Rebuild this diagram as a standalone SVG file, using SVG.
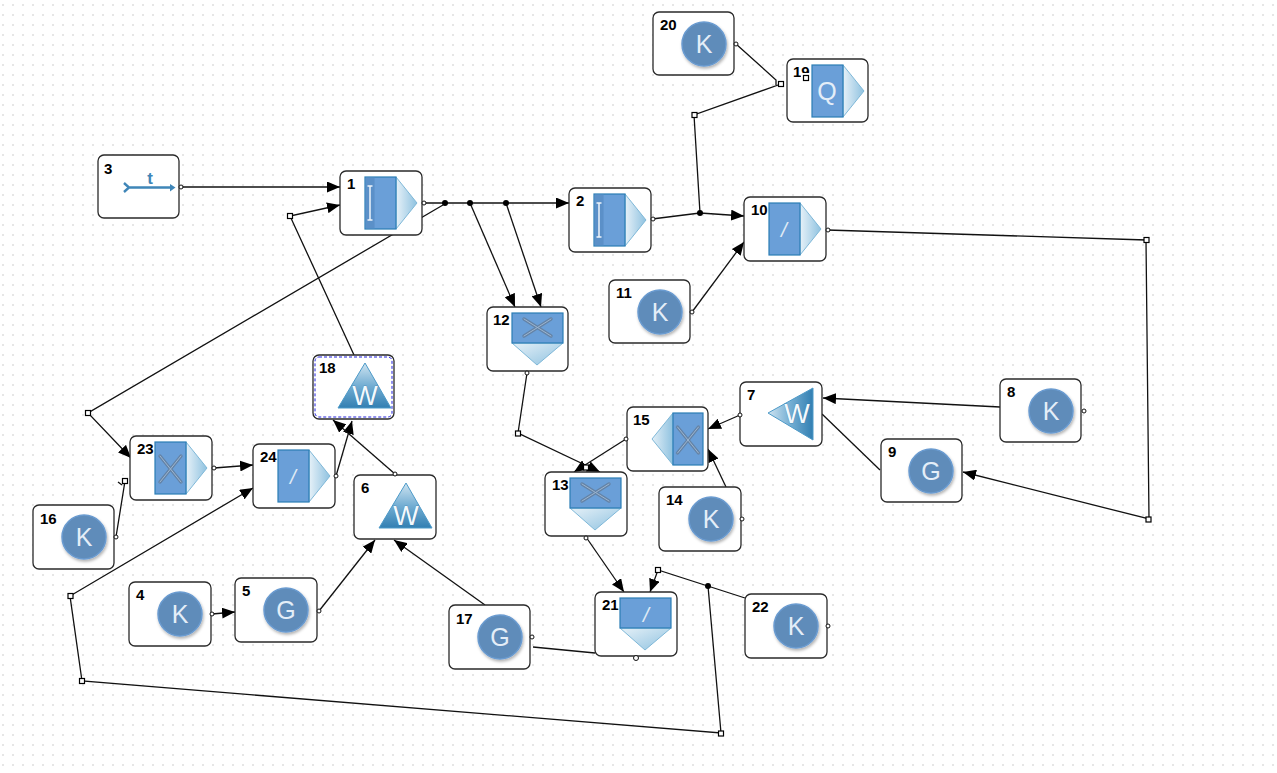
<svg xmlns="http://www.w3.org/2000/svg" width="1277" height="773" viewBox="0 0 1277 773">
<style>
.box{fill:#fff;stroke:#2a2a2a;stroke-width:1.3}
.num{font:bold 15px "Liberation Sans",Arial,sans-serif;fill:#000}
.g{font:25px "Liberation Sans",Arial,sans-serif;fill:#e4eef8;text-anchor:middle}
.w{font:27px "Liberation Sans",Arial,sans-serif;fill:#f4f9fd;text-anchor:middle;stroke:#2f78a8;stroke-width:.5;paint-order:stroke}
.sl{font:italic 21px "Liberation Sans",Arial,sans-serif;fill:#dfeaf5;text-anchor:middle}
.bl{fill:#6a9fd8;stroke:#2a7db5;stroke-width:1.2}
.col{fill:#5b90c8}
.c{fill:none;stroke:#111;stroke-width:1.3}
.a{marker-end:url(#ah)}
.sq{fill:#fff;stroke:#000;stroke-width:1.2}
.dot{fill:#000}
.port{fill:#fff;stroke:#111;stroke-width:1}
.x{stroke:#6483a6;stroke-width:3.4;stroke-linecap:round;fill:none}
.x2{stroke:#9db6d0;stroke-width:1;stroke-linecap:round;fill:none}
.disc{fill:#5f8cba;stroke:#6a9bd0;stroke-width:1.5;filter:url(#ds)}
</style>
<defs>
<pattern id="grid" width="10" height="10" patternUnits="userSpaceOnUse"><rect x="2" y="4" width="2" height="2" fill="#e6e6e6"/></pattern>
<filter id="ds" x="-20%" y="-20%" width="150%" height="150%"><feDropShadow dx="1" dy="2" stdDeviation="1.500" flood-color="#000" flood-opacity=".3"/></filter>
<marker id="ah" markerUnits="userSpaceOnUse" markerWidth="13" markerHeight="11" refX="13" refY="5.500" orient="auto"><path d="M0 0L13 5.500L0 11z" fill="#000"/></marker>
<linearGradient id="tr" x1="0" x2="1" y1="0" y2="0"><stop offset="0" stop-color="#e6f1f8"/><stop offset="1" stop-color="#8fc2e0"/></linearGradient>
<linearGradient id="tl" x1="1" x2="0" y1="0" y2="0"><stop offset="0" stop-color="#8fc2e0"/><stop offset="1" stop-color="#e2eff7"/></linearGradient>
<linearGradient id="td" x1="0" x2="1" y1="0" y2="1"><stop offset="0" stop-color="#e6f1f8"/><stop offset="1" stop-color="#8fc2e0"/></linearGradient>
<linearGradient id="tw" x1="0" x2="0" y1="0" y2="1"><stop offset="0" stop-color="#cfe4f1"/><stop offset=".5" stop-color="#74aed3"/><stop offset="1" stop-color="#327fb2"/></linearGradient>
<linearGradient id="twl" x1="0" x2="1" y1="0" y2="0"><stop offset="0" stop-color="#cfe4f1"/><stop offset=".5" stop-color="#74aed3"/><stop offset="1" stop-color="#327fb2"/></linearGradient>
<path id="tri" d="M56 6L77 32L56 58z" fill="url(#tr)" stroke="#7fb8d8"/>
<path id="dn" d="M25 36H76L50 58z" fill="url(#td)" stroke="#7fb8d8"/>
<path id="tup" d="M52 8L78 53H25z" fill="url(#tw)" stroke="#4d9ac8"/>
<g id="xr"><path class="x" d="M30 20L51 46M51 20L30 46"/><path class="x2" d="M30 20L51 46M51 20L30 46"/></g>
<g id="xd"><path class="x" d="M37 12L64 29M64 12L37 29"/><path class="x2" d="M37 12L64 29M64 12L37 29"/></g>
<g id="ir"><use href="#tri"/><rect class="bl" x="25" y="6" width="31" height="52"/><rect class="col" x="25.600" y="6.600" width="9" height="50.800"/><path d="M30 15V49M27.500 15H32.500M27.500 49H32.500" stroke="#eef4fa" stroke-width="1.500" fill="none"/></g>
</defs>
<rect width="1277" height="773" fill="#fff"/>
<rect width="1277" height="773" fill="url(#grid)"/>

<g id="connectors">
<path class="c a" style="stroke-width:1.6" d="M181 187H340"/>
<path class="c a" d="M354 355L290 216L340 205"/>
<path class="c a" d="M423 203H569"/>
<path class="c a" d="M443 205L88 413L131 458"/>
<path class="c a" d="M470 203L515 307"/>
<path class="c a" d="M506 203L541 307"/>
<path class="c a" d="M652 219L700 213L744 216"/>
<path class="c" d="M700 213L694 115L781 84"/>
<path class="c" d="M736 44L776 80V85"/>
<path class="c a" d="M692 312L744 242"/>
<path class="c a" d="M827 230L1146 240L1149 519L963 472"/>
<path class="c a" d="M1000 407L823 398"/>
<path class="c" d="M880 470L822 414"/>
<path class="c a" d="M740 415L708 429"/>
<path class="c a" d="M726 487L708 449"/>
<path class="c a" d="M626 439L574 472"/>
<path class="c a" d="M527 373L518 433L600 472"/>
<path class="c a" d="M586 537L624 592"/>
<path class="c a" d="M745 598L658 570L650 592"/>
<path class="c a" d="M708 586L721 733L82 681L70 596L253 488"/>
<path class="c" d="M116 537L125 481M118 482L122 485"/>
<path class="c a" d="M214 468L253 465"/>
<path class="c a" d="M336 476L352 421"/>
<path class="c a" d="M395 474L333 420"/>
<path class="c a" d="M319 611L375 540"/>
<path class="c a" d="M485 605L394 540"/>
<path class="c a" d="M212 614L235 612"/>
<path class="c" d="M533 647L595 653"/>
<circle class="dot" cx="445" cy="203" r="3"/><circle class="dot" cx="470" cy="203" r="3"/><circle class="dot" cx="506" cy="203" r="3"/><circle class="dot" cx="700" cy="213" r="3"/><circle class="dot" cx="708" cy="586" r="3"/>
<g class="sq"><rect x="287.500" y="213.500" width="5" height="5"/><rect x="85.500" y="410.500" width="5" height="5"/><rect x="692" y="112.500" width="5" height="5"/><rect x="778.500" y="81.500" width="5" height="5"/><rect x="1144" y="237.500" width="5" height="5"/><rect x="1146" y="517" width="5" height="5"/><rect x="515.500" y="431" width="5" height="5"/><rect x="655.500" y="567.500" width="5" height="5"/><rect x="718.500" y="731" width="5" height="5"/><rect x="79.500" y="678.500" width="5" height="5"/><rect x="68" y="593.500" width="5" height="5"/><rect x="122.500" y="478.500" width="5" height="5"/><rect x="583.500" y="465" width="5" height="5"/></g>
</g>

<g id="node3"><rect class="box" x="98" y="155" width="81" height="63" rx="6"/><text class="num" x="104" y="174">3</text><path d="M124 183L129 187.500L124 192M128 187.500H171" fill="none" stroke="#3f86b8" stroke-width="2.400"/><path d="M170 184L175.500 187.500L170 191.500z" fill="#3f86b8"/><text x="150" y="184" font-family="Liberation Sans,sans-serif" font-weight="bold" font-size="17" fill="#3f86b8" text-anchor="middle">t</text><circle class="port" cx="181" cy="187" r="2"/></g>

<g id="node1" transform="translate(340 171)"><rect class="box" width="82" height="64" rx="6"/><text class="num" x="7" y="18">1</text><use href="#ir"/><circle class="port" cx="84" cy="32" r="2"/></g>
<g id="node2" transform="translate(569 188)"><rect class="box" width="82" height="64" rx="6"/><text class="num" x="7" y="18">2</text><use href="#ir"/><circle class="port" cx="84" cy="31" r="2"/></g>

<g id="node10" transform="translate(744 197)"><rect class="box" width="82" height="64" rx="6"/><text class="num" x="7" y="18">10</text><use href="#tri"/><rect class="bl" x="25" y="6" width="31" height="52"/><text class="sl" x="40" y="40">/</text><circle class="port" cx="84" cy="33" r="2"/></g>
<g id="node24" transform="translate(253 444)"><rect class="box" width="82" height="64" rx="6"/><text class="num" x="7" y="18">24</text><use href="#tri"/><rect class="bl" x="25" y="6" width="31" height="52"/><text class="sl" x="40" y="40">/</text><circle class="port" cx="83" cy="32" r="2"/></g>
<g id="node23" transform="translate(130 436)"><rect class="box" width="82" height="64" rx="6"/><text class="num" x="7" y="18">23</text><use href="#tri"/><rect class="bl" x="25" y="6" width="31" height="52"/><use href="#xr"/><circle class="port" cx="84" cy="32" r="2"/></g>
<g id="node19" transform="translate(787 59)"><rect class="box" width="81" height="63" rx="6"/><text class="num" x="6" y="18">19</text><rect x="14" y="14" width="10" height="10" fill="#fff"/><use href="#tri"/><rect class="bl" x="25" y="6" width="31" height="52"/><text class="g" x="40" y="41">Q</text><rect class="sq" x="16.500" y="16.500" width="5" height="5"/></g>

<g id="node12" transform="translate(487 307)"><rect class="box" width="81" height="64" rx="6"/><text class="num" x="6" y="18">12</text><use href="#dn"/><rect class="bl" x="25" y="6" width="51" height="30"/><use href="#xd"/><circle class="port" cx="40" cy="66" r="2"/></g>
<g id="node13" transform="translate(545 472)"><rect class="box" width="82" height="64" rx="6"/><text class="num" x="7" y="18">13</text><use href="#dn"/><rect class="bl" x="25" y="6" width="51" height="30"/><use href="#xd"/><circle class="port" cx="41" cy="66" r="2"/></g>
<g id="node21" transform="translate(595 592)"><rect class="box" width="82" height="64" rx="6"/><text class="num" x="7" y="18">21</text><use href="#dn"/><rect class="bl" x="25" y="6" width="51" height="30"/><text class="sl" x="51" y="30">/</text><circle class="port" cx="41" cy="66" r="2.500"/></g>

<g id="node15" transform="translate(627 407)"><rect class="box" width="81" height="64" rx="6"/><text class="num" x="6" y="18">15</text><path d="M46 6L25 32L46 58z" fill="url(#tl)" stroke="#7fb8d8"/><rect class="bl" x="46" y="6" width="30" height="52"/><use href="#xr" x="20.500"/><circle class="port" cx="-1" cy="32" r="2"/></g>

<g id="node18" transform="translate(313 355)"><rect class="box" width="81" height="64" rx="6"/><rect x="2" y="2" width="77" height="60" rx="4" fill="none" stroke="#2222dd" stroke-dasharray="3 2"/><text class="num" x="6" y="18">18</text><use href="#tup"/><text class="w" x="52" y="50">W</text></g>
<g id="node6" transform="translate(354 475)"><rect class="box" width="82" height="64" rx="6"/><text class="num" x="7" y="18">6</text><use href="#tup"/><text class="w" x="52" y="50">W</text><circle class="port" cx="41" cy="-1" r="2"/></g>
<g id="node7" transform="translate(740 382)"><rect class="box" width="82" height="64" rx="6"/><text class="num" x="7" y="18">7</text><path d="M28 31L73 6V58z" fill="url(#twl)" stroke="#4d9ac8"/><text class="w" x="57" y="41">W</text><circle class="port" cx="0" cy="33" r="2"/></g>

<g id="node20" transform="translate(653 12)"><rect class="box" width="81" height="63" rx="6"/><text class="num" x="7" y="18">20</text><circle class="disc" cx="51" cy="32" r="22"/><text class="g" x="51" y="41">K</text><circle class="port" cx="83" cy="32" r="2"/></g>
<g id="node11" transform="translate(609 280)"><rect class="box" width="81" height="63" rx="6"/><text class="num" x="7" y="18">11</text><circle class="disc" cx="51" cy="32" r="22"/><text class="g" x="51" y="41">K</text><circle class="port" cx="83" cy="32" r="2"/></g>
<g id="node8" transform="translate(1000 379)"><rect class="box" width="81" height="63" rx="6"/><text class="num" x="7" y="18">8</text><circle class="disc" cx="51" cy="32" r="22"/><text class="g" x="51" y="41">K</text><circle class="port" cx="84" cy="32" r="2"/></g>
<g id="node9" transform="translate(881 439)"><rect class="box" width="81" height="63" rx="6"/><text class="num" x="7" y="18">9</text><circle class="disc" cx="50" cy="32" r="22"/><text class="g" x="50" y="41">G</text></g>
<g id="node14" transform="translate(659 487)"><rect class="box" width="82" height="64" rx="6"/><text class="num" x="7" y="18">14</text><circle class="disc" cx="52" cy="32" r="22"/><text class="g" x="52" y="41">K</text><circle class="port" cx="83" cy="32" r="2"/></g>
<g id="node16" transform="translate(33 505)"><rect class="box" width="81" height="64" rx="6"/><text class="num" x="7" y="19">16</text><circle class="disc" cx="51" cy="32" r="22"/><text class="g" x="51" y="41">K</text><circle class="port" cx="83" cy="32" r="2"/></g>
<g id="node4" transform="translate(129 582)"><rect class="box" width="82" height="64" rx="6"/><text class="num" x="7" y="18">4</text><circle class="disc" cx="51" cy="32" r="22"/><text class="g" x="51" y="41">K</text><circle class="port" cx="83" cy="32" r="2"/></g>
<g id="node5" transform="translate(235 578)"><rect class="box" width="82" height="64" rx="6"/><text class="num" x="7" y="18">5</text><circle class="disc" cx="51" cy="32" r="22"/><text class="g" x="51" y="41">G</text><circle class="port" cx="84" cy="33" r="2"/></g>
<g id="node17" transform="translate(449 605)"><rect class="box" width="81" height="64" rx="6"/><text class="num" x="7" y="19">17</text><circle class="disc" cx="51" cy="32" r="22"/><text class="g" x="51" y="41">G</text><circle class="port" cx="83" cy="32" r="2"/></g>
<g id="node22" transform="translate(745 594)"><rect class="box" width="82" height="64" rx="6"/><text class="num" x="7" y="18">22</text><circle class="disc" cx="51" cy="32" r="22"/><text class="g" x="51" y="41">K</text><circle class="port" cx="83" cy="32" r="2"/></g>
</svg>
